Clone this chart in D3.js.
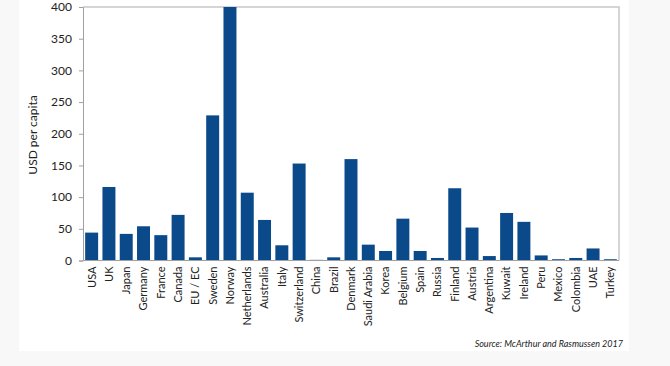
<!DOCTYPE html>
<html>
<head>
<meta charset="utf-8">
<script src="https://cdn.jsdelivr.net/npm/d3@7"></script>
<style>
  html, body { margin: 0; padding: 0; background: #f8f8f8; }
  svg { display: block; }
  text { font-family: Lato, "Liberation Sans", sans-serif; fill: #222; }
</style>
</head>
<body>
<svg id="chart" width="670" height="366"></svg>
<script>
// Spending per capita by country
var countries = ["USA", "UK", "Japan", "Germany", "France", "Canada", "EU / EC", "Sweden",
  "Norway", "Netherlands", "Australia", "Italy", "Switzerland", "China", "Brazil", "Denmark",
  "Saudi Arabia", "Korea", "Belgium", "Spain", "Russia", "Finland", "Austria", "Argentina",
  "Kuwait", "Ireland", "Peru", "Mexico", "Colombia", "UAE", "Turkey"];
var usdPerCapita = [44, 116, 42, 54, 40, 72, 5, 229,
  400, 107, 64, 24, 153, 1, 5, 160,
  25, 15, 66, 15, 4, 114, 52, 7,
  75, 61, 8, 2, 4, 19, 2];
var yTicks = [0, 50, 100, 150, 200, 250, 300, 350, 400];
var yLabel = "USD per capita";
var source = "Source: McArthur and Rasmussen 2017";

var svg = d3.select("#chart");
var m = { left: 83, right: 619, top: 7, bottom: 260.5 };

// white panel
svg.append("rect").attr("x", 19).attr("y", 0).attr("width", 610).attr("height", 351).attr("fill", "#fff");

var x = d3.scaleBand().domain(countries).range([m.left, m.right]).paddingInner(0.25).paddingOuter(0.125);
var y = d3.scaleLinear().domain([0, 400]).range([m.bottom, m.top]);

// top and right frame
svg.append("path")
  .attr("d", "M" + m.left + "," + m.top + "H" + m.right + "V" + m.bottom)
  .attr("fill", "none").attr("stroke", "#c8c8c8").attr("stroke-width", 1.5);

svg.append("g").selectAll("rect")
  .data(countries).join("rect")
  .attr("x", function (d) { return x(d); })
  .attr("width", x.bandwidth())
  .attr("y", function (d, i) { return y(usdPerCapita[i]); })
  .attr("height", function (d, i) { return m.bottom - y(usdPerCapita[i]); })
  .attr("fill", "#0a4a8b");

var yAxis = svg.append("g").attr("transform", "translate(" + m.left + ",0)")
  .call(d3.axisLeft(y).tickValues(yTicks).tickSize(4).tickPadding(7));
yAxis.select(".domain").attr("stroke", "#a0a0a0");
yAxis.selectAll(".tick line").attr("stroke", "#a0a0a0");
yAxis.selectAll("text").style("font-size", "12px").attr("fill", "#222");

var xAxis = svg.append("g").attr("transform", "translate(0," + m.bottom + ")")
  .call(d3.axisBottom(x).tickSize(0).tickPadding(0));
xAxis.select(".domain").attr("stroke", "#a0a0a0").attr("d", "M" + m.left + ",0H" + m.right);
xAxis.selectAll("text")
  .style("font-size", "11px").attr("fill", "#222")
  .attr("transform", "rotate(-90)")
  .attr("text-anchor", "end")
  .attr("x", -6).attr("y", 0).attr("dy", "0.35em");

svg.append("text")
  .attr("transform", "translate(37,135) rotate(-90)")
  .attr("text-anchor", "middle")
  .style("font-size", "12px")
  .text(yLabel);

svg.append("text")
  .attr("x", 623).attr("y", 347)
  .attr("text-anchor", "end")
  .style("font-size", "9px").style("font-style", "italic")
  .text(source);
</script>
</body>
</html>
